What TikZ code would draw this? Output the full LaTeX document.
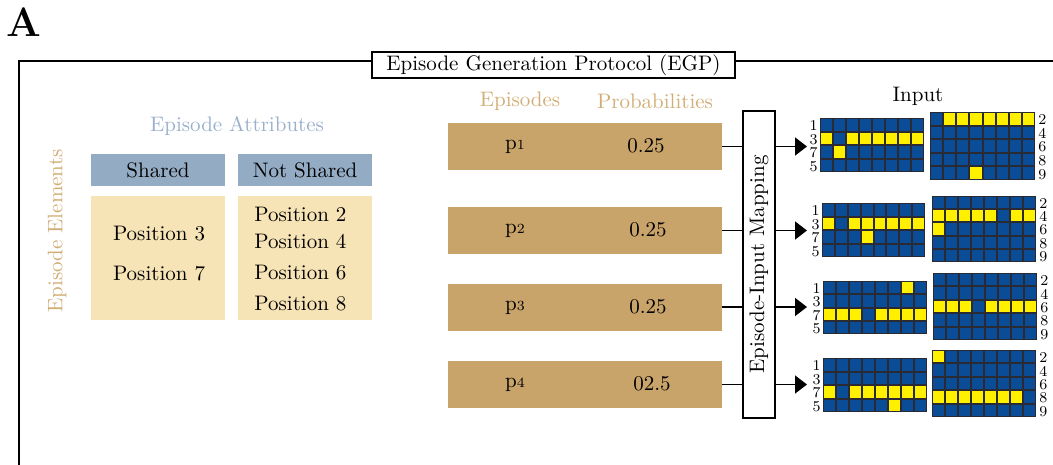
\documentclass[tikz,border=0pt]{standalone}
\usetikzlibrary{arrows.meta}
\definecolor{hdrblue}{HTML}{94ABC4}
\definecolor{bodycream}{HTML}{F6E4B6}
\definecolor{bartan}{HTML}{C8A36A}
\definecolor{attrblue}{HTML}{9AB0CB}
\definecolor{tantext}{HTML}{D1AE76}
\definecolor{cellblue}{HTML}{0B4C97}
\definecolor{cellyellow}{HTML}{FFF000}
\definecolor{gridbg}{HTML}{2A2A35}
\newcommand{\cellgrid}[6]{%
  \fill[gridbg] (#1,#2) rectangle (#3,#4);
  \pgfmathsetmacro\gcw{(#3-#1)/8}
  \pgfmathsetmacro\gch{(#4-#2)/#5}
  \foreach \r in {1,...,#5}{\foreach \c in {1,...,8}{
    \fill[cellblue] ({#1+(\c-1)*\gcw+1},{#2+(\r-1)*\gch+1}) rectangle ({#1+\c*\gcw-1},{#2+\r*\gch-1});}}
  \foreach \r/\c in {#6}{
    \fill[cellyellow] ({#1+(\c-1)*\gcw+1},{#2+(\r-1)*\gch+1}) rectangle ({#1+\c*\gcw-1},{#2+\r*\gch-1});}
}
\newcommand{\leftgrid}[6]{%
  \cellgrid{#1}{#2}{#3}{#4}{4}{#5}
  \pgfmathsetmacro\gchl{(#4-#2)/4}
  \foreach \lab [count=\i] in {#6}{\node[rowlab, anchor=east] at ({#1-2},{#2+(\i-0.5)*\gchl+1}) {\lab};}
}
\newcommand{\rightgrid}[6]{%
  \cellgrid{#1}{#2}{#3}{#4}{5}{#5}
  \pgfmathsetmacro\gchr{(#4-#2)/5}
  \foreach \lab [count=\i] in {#6}{\node[rowlab, anchor=west] at ({#3+3},{#2+(\i-0.5)*\gchr+1}) {\lab};}
}
\tikzset{
  maintext/.style={font=\fontsize{10.5}{12.6}\selectfont, inner sep=0pt},
  rowlab/.style={font=\fontsize{7.5}{8}\selectfont, inner sep=0pt},
  hdr/.style={fill=hdrblue, minimum width=67pt, minimum height=16pt, inner sep=0pt, font=\fontsize{10.5}{12.6}\selectfont},
  bodybox/.style={fill=bodycream, minimum width=67pt, minimum height=62pt, inner sep=0pt},
  bar/.style={fill=bartan, minimum width=137pt, minimum height=23.5pt, inner sep=0pt},
  mapbox/.style={draw, line width=0.9pt, fill=white, minimum width=153.5pt, minimum height=16pt, inner sep=0pt, font=\fontsize{10.5}{12.6}\selectfont},
  titlebox/.style={draw, line width=0.8pt, fill=white, minimum width=181.5pt, minimum height=13pt, inner sep=0pt, font=\fontsize{10.5}{12.6}\selectfont},
  conn/.style={line width=0.8pt},
  arr/.style={line width=0.8pt, -{Triangle[length=6pt,width=9pt]}}
}
\begin{document}
\begin{tikzpicture}[x=0.5pt,y=-0.5pt]
\useasboundingbox (0,0) rectangle (1053,465);
% panel letter
\node[inner sep=0pt, anchor=south west, font=\fontsize{20.5}{24}\selectfont\bfseries] (letter) at (6,37) {A};
% frame
\coordinate (fbl) at (19,470);
\coordinate (ftl) at (19,61);
\coordinate (ftr) at (1060,61);
\draw[line width=0.8pt] (fbl) -- (ftl) -- (ftr);
\node[titlebox] (title) at (553.5,65) {Episode Generation Protocol (EGP)};
% attributes table
\node[maintext, text=attrblue] (attr) at (237,126) {Episode Attributes};
\node[maintext, text=tantext, rotate=90] (elem) at (57,231) {Episode Elements};
\node[hdr] (hs) at (158,170) {Shared};
\node[hdr] (hn) at (305,170) {Not Shared};
\node[bodybox] (bs) at (158,258) {};
\node[bodybox] (bn) at (305,258) {};
\node[maintext] (s3) at (159,234) {Position 3};
\node[maintext] (s7) at (159,274) {Position 7};
\node[maintext, anchor=west] (n2) at (254,214) {Position 2};
\node[maintext, anchor=west] (n4) at (254,241) {Position 4};
\node[maintext, anchor=west] (n6) at (254,273) {Position 6};
\node[maintext, anchor=west] (n8) at (254,304) {Position 8};
% episodes
\node[maintext, text=tantext] (eplab) at (520,101) {Episodes};
\node[maintext, text=tantext] (prlab) at (655,101) {Probabilities};
\node[bar] (e1) at (585,146.5) {};
\node[bar] (e2) at (585,230.5) {};
\node[bar] (e3) at (585,307) {};
\node[bar] (e4) at (585,384.5) {};
\node[maintext] (p1) at (515,147) {p{\fontsize{7}{8}\selectfont 1}};
\node[maintext] (p2) at (515,231) {p{\fontsize{7}{8}\selectfont 2}};
\node[maintext] (p3) at (515,308) {p{\fontsize{7}{8}\selectfont 3}};
\node[maintext] (p4) at (515,385) {p{\fontsize{7}{8}\selectfont 4}};
\node[maintext] (q1) at (646,146) {0.25};
\node[maintext] (q2) at (648,230) {0.25};
\node[maintext] (q3) at (648,307) {0.25};
\node[maintext] (q4) at (652,384) {02.5};
% mapping box
\node[mapbox, rotate=90] (map) at (759,264.5) {Episode-Input Mapping};
\draw[conn] (e1.east) -- (e1.east -| map.north);
\draw[conn] (e2.east) -- (e2.east -| map.north);
\draw[conn] (e3.east) -- (e3.east -| map.north);
\draw[conn] (e4.east) -- (e4.east -| map.north);
\coordinate (a1) at (807,146.5);
\coordinate (a2) at (807,230.5);
\coordinate (a3) at (807,307);
\coordinate (a4) at (807,384.5);
\draw[arr] (a1 -| map.south) -- (a1);
\draw[arr] (a2 -| map.south) -- (a2);
\draw[arr] (a3 -| map.south) -- (a3);
\draw[arr] (a4 -| map.south) -- (a4);
% input
\node[maintext] (inlab) at (918,96) {Input};
\leftgrid{820}{118}{924}{172}{2/1,2/3,2/4,2/5,2/6,2/7,2/8,3/2}{1,3,7,5}
\rightgrid{930}{112}{1035}{180}{1/2,1/3,1/4,1/5,1/6,1/7,1/8,5/4}{2,4,6,8,9}
\leftgrid{822}{203}{925}{257}{2/1,2/3,2/4,2/5,2/6,2/7,2/8,3/4}{1,3,7,5}
\rightgrid{932}{196}{1036}{262}{2/1,2/2,2/3,2/4,2/5,2/7,2/8,3/1}{2,4,6,8,9}
\leftgrid{823}{281}{927}{334}{1/7,3/1,3/2,3/3,3/5,3/6,3/7,3/8}{1,3,7,5}
\rightgrid{933}{273}{1037}{340}{3/1,3/2,3/3,3/5,3/6,3/7,3/8}{2,4,6,8,9}
\leftgrid{823}{358}{927}{412}{3/1,3/3,3/4,3/5,3/6,3/7,3/8,4/6}{1,3,7,5}
\rightgrid{932}{350}{1036}{417}{1/1,4/1,4/2,4/3,4/4,4/5,4/6,4/7}{2,4,6,8,9}
\end{tikzpicture}
\end{document}
